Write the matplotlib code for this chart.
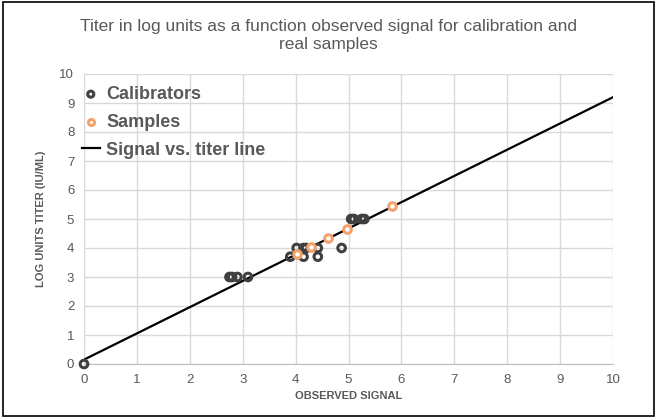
import matplotlib
matplotlib.use("Agg")
import matplotlib.pyplot as plt
import numpy as np

# data
calib_x = [0.0, 2.75, 2.8, 2.9, 3.1, 3.9, 4.02, 4.15, 4.15, 4.2, 4.42, 4.42, 4.87, 5.05, 5.1, 5.25, 5.3]
calib_y = [0.0, 3.0, 3.0, 3.0, 3.0, 3.7, 4.0, 3.7, 4.0, 4.0, 4.0, 3.7, 4.0, 5.0, 5.0, 5.0, 5.0]
sample_x = [4.02, 4.3, 4.62, 4.98, 5.83]
sample_y = [3.8, 4.03, 4.33, 4.65, 5.45]
line_x = [0, 10]
line_y = [0.15, 9.2]

grey = "#595959"
orange = "#F4A26B"
plt.rcParams['font.family'] = ['Liberation Sans', 'DejaVu Sans']

fig = plt.figure(figsize=(6.57, 4.18), dpi=100)
ax = fig.add_axes([84/657, 1-364/418, (613-84)/657, (364-74)/418])

ax.plot(line_x, line_y, color="black", lw=1.6, label="Signal vs. titer line", zorder=2)
ax.scatter(calib_x, calib_y, s=30, facecolors="none", edgecolors="#404040", linewidths=2.2,
           label="Calibrators", zorder=3, clip_on=False)
ax.scatter(sample_x, sample_y, s=30, facecolors="white", edgecolors=orange, linewidths=2.2,
           label="Samples", zorder=4, clip_on=False)

ax.set_xlim(0, 10)
ax.set_ylim(0, 10)
ax.set_xticks(np.arange(0, 11, 1))
ax.set_yticks(np.arange(0, 11, 1))
ax.grid(True, color="#D9D9D9", lw=1)
ax.set_axisbelow(True)
for s in ["top", "right", "left"]:
    ax.spines[s].set_visible(False)
ax.spines["bottom"].set_color("#BFBFBF")
ax.tick_params(length=0, colors=grey, labelsize=9.5, pad=7)

ax.set_xlabel("OBSERVED SIGNAL", fontsize=8, fontweight="bold", color=grey, labelpad=4)
ax.set_ylabel("LOG UNITS TITER (IU/ML)", fontsize=8, fontweight="bold", color=grey, labelpad=10)

fig.text(0.5, 1-36/418, "Titer in log units as a function observed signal for calibration and\nreal samples",
         ha="center", va="center", fontsize=12.5, color=grey, linespacing=1.25)

h, l = ax.get_legend_handles_labels()
order = [1, 2, 0]
leg = ax.legend([h[i] for i in order], [l[i] for i in order], loc="upper left",
                bbox_to_anchor=(-0.035, 1.015), frameon=False, handlelength=1.0,
                handletextpad=0.35, labelspacing=0.6, markerscale=0.8,
                prop={"size": 13, "weight": "bold"})
for t in leg.get_texts():
    t.set_color(grey)

fig.patches.append(plt.Rectangle((0.005, 0.005), 0.99, 0.99, transform=fig.transFigure,
                                 fill=False, edgecolor="black", lw=1.2))

fig.savefig("out.png", dpi=100)
